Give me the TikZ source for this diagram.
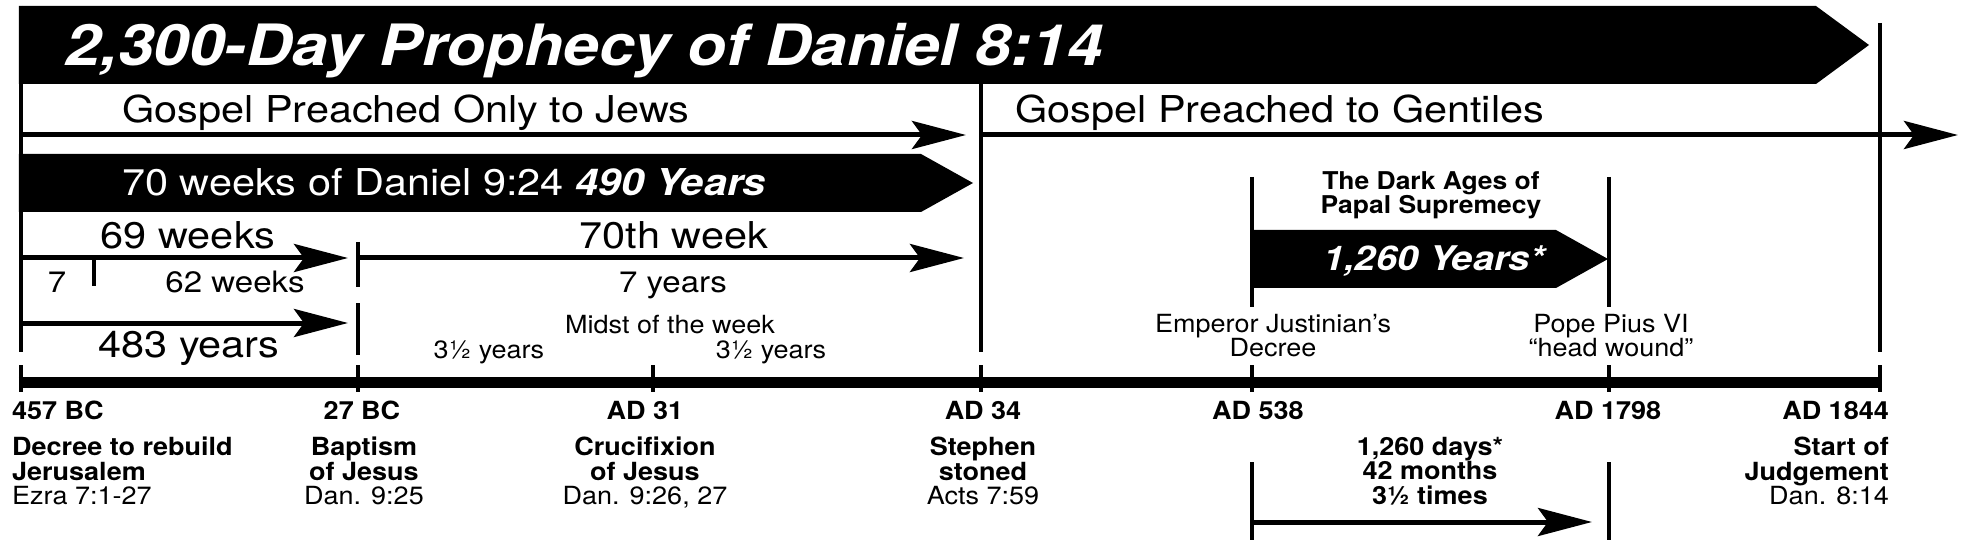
\documentclass[tikz,border=0pt]{standalone}
\usepackage{fontspec}
\setmainfont{TeX Gyre Heros}[FakeStretch=1.12]
\newfontfamily\labfont{TeX Gyre Heros}[FakeStretch=1.08]
\usetikzlibrary{arrows.meta}
\begin{document}
\begin{tikzpicture}[x=1pt,y=-1pt,
  vline/.style={line width=4.5pt},
  axisline/.style={line width=11pt},
  arr/.style={line width=5pt,-{Stealth[length=54pt,width=28pt,inset=10pt]}},
  bigtxt/.style={inner sep=0pt,font=\fontsize{37}{40}\selectfont},
  midtxt/.style={inner sep=0pt,font=\fontsize{29.5}{32}\selectfont},
  smalltxt/.style={inner sep=0pt,font=\labfont\fontsize{25}{24.5}\selectfont},
  datetxt/.style={inner sep=0pt,font=\labfont\fontsize{25}{24.5}\selectfont\bfseries},
]
\fill[white] (0,0) rectangle (1966,548);
\useasboundingbox (0,0) rectangle (1966,548);
\def\xa{21}\def\xb{358}\def\xc{653}\def\xd{981}\def\xe{1252}\def\xf{1609}\def\xg{1880}

% title banner
\fill (18.75,6) -- (1816,6) -- (1869,45) -- (1816,84) -- (18.75,84) -- cycle;
\node[inner sep=0pt,anchor=base west,text=white,font=\fontsize{57}{60}\selectfont\bfseries\itshape] (title) at (65,66) {2,300-Day Prophecy of Daniel 8:14};

% vertical lines
\draw[vline] (\xa,6) -- (\xa,352);
\draw[vline] (\xb,242) -- (\xb,287);
\draw[vline] (\xb,303) -- (\xb,355);
\draw[vline] (\xd,84) -- (\xd,352);
\draw[vline] (\xg,23) -- (\xg,352);
\draw[vline] (\xe,177) -- (\xe,307);
\draw[vline] (\xf,177) -- (\xf,307);
\draw[vline] (\xe,462) -- (\xe,540);
\draw[vline] (\xf,462) -- (\xf,540);
\draw[vline] (94,258) -- (94,286);

% axis and ticks
\draw[axisline] (\xa-2.25,382) -- (\xg+2.25,382);
\foreach \t in {\xa,\xb,\xc,\xd,\xe,\xf,\xg}{\draw[vline] (\t,365) -- (\t,392);}

% gospel arrows
\coordinate (jewsS) at (\xa,135); \coordinate (jewsE) at (966,135);
\coordinate (gentS) at (\xd,135); \coordinate (gentE) at (1958,135);
\draw[arr] (jewsS) -- (jewsE);
\draw[arr] (gentS) -- (gentE);
\node[bigtxt,anchor=base west] (jews) at (122,123) {Gospel Preached Only to Jews};
\node[bigtxt,anchor=base west] (gent) at (1015,123) {Gospel Preached to Gentiles};

% 70 weeks band
\fill (18.75,154) -- (921,154) -- (973,183) -- (921,212) -- (18.75,212) -- cycle;
\node[bigtxt,anchor=base west,text=white] (seventy) at (122,196) {70 weeks of Daniel 9:24 \textbf{\textit{490 Years}}};

% 69 weeks / 70th week
\coordinate (w69S) at (\xa,258); \coordinate (w69E) at (348,258);
\coordinate (w70S) at (\xb,258); \coordinate (w70E) at (964,258);
\coordinate (y483S) at (\xa,323); \coordinate (y483E) at (348,323);
\draw[arr] (w69S) -- (w69E);
\draw[arr] (w70S) -- (w70E);
\draw[arr] (y483S) -- (y483E);
\node[bigtxt,anchor=base] (l69) at (188,249) {69 weeks};
\node[bigtxt,anchor=base] (l70) at (674,249) {70th week};
\node[midtxt,anchor=base] (l7) at (57,293) {7};
\node[midtxt,anchor=base] (l62) at (235,293) {62 weeks};
\node[midtxt,anchor=base] (l7y) at (673,293) {7 years};
\node[bigtxt,anchor=base] (l483) at (189,357) {483 years};
\node[smalltxt,anchor=base] (midst) at (670,334) {Midst of the week};
\node[smalltxt,anchor=base] (half1) at (489,358) {3½ years};
\node[smalltxt,anchor=base] (half2) at (771,358) {3½ years};

% dark ages
\fill (\xe,230) -- (1556,230) -- (1608,259) -- (1556,288) -- (\xe,288) -- cycle;
\node[inner sep=0pt,anchor=base,text=white,font=\fontsize{34}{36}\selectfont\bfseries\itshape] (y1260) at (1434,270) {1,260 Years*};
\node[inner sep=0pt,align=center,anchor=north,font=\labfont\fontsize{24.5}{23}\selectfont\bfseries] (dark) at (1431,171) {The Dark Ages of\\Papal Supremecy};
\node[smalltxt,align=center,anchor=north] (emp) at (1273,314) {Emperor Justinian’s\\Decree};
\node[smalltxt,align=center,anchor=north] (pope) at (1611,314) {Pope Pius VI\\“head wound”};

% dates
\node[datetxt,anchor=west] (d457) at (12,410) {457 BC};
\node[datetxt] (d27) at (362,410) {27 BC};
\node[datetxt] (d31) at (645,410) {AD 31};
\node[datetxt] (d34) at (983,410) {AD 34};
\node[datetxt] (d538) at (1258,410) {AD 538};
\node[datetxt] (d1798) at (1608,410) {AD 1798};
\node[datetxt,anchor=east] (d1844) at (1889,410) {AD 1844};

% descriptions
\node[datetxt,align=left,anchor=north west] (e457) at (12,437) {Decree to rebuild\\Jerusalem\\\mdseries Ezra 7:1-27};
\node[datetxt,align=center,anchor=north] (e27) at (364,437) {Baptism\\of Jesus\\\mdseries Dan. 9:25};
\node[datetxt,align=center,anchor=north] (e31) at (645,437) {Crucifixion\\of Jesus\\\mdseries Dan. 9:26, 27};
\node[datetxt,align=center,anchor=north] (e34) at (983,437) {Stephen\\stoned\\\mdseries Acts 7:59};
\node[datetxt,align=center,anchor=north] (e1260) at (1430,437) {1,260 days*\\42 months\\3½ times};
\node[datetxt,align=right,anchor=north east] (e1844) at (1889,437) {Start of\\Judgement\\\mdseries Dan. 8:14};

\coordinate (lowS) at (\xe,522); \coordinate (lowE) at (1592,522);
\draw[arr] (lowS) -- (lowE);
\end{tikzpicture}
\end{document}
